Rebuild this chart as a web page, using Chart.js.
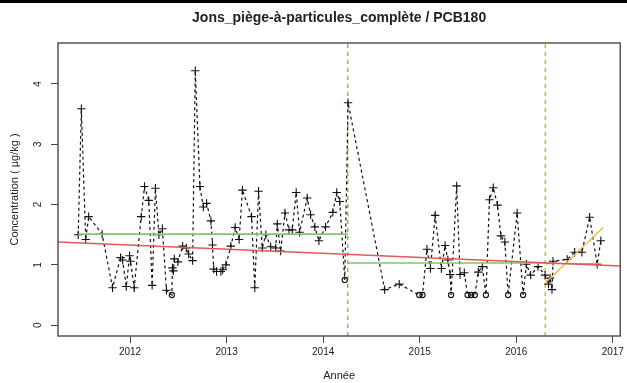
<!DOCTYPE html>
<html lang="fr">
<head>
<meta charset="UTF-8">
<title>Jons - PCB180</title>
<script src="https://cdn.jsdelivr.net/npm/chart.js"></script>
<style>
  html, body { margin: 0; padding: 0; background: #fff; }
</style>
</head>
<body>
<canvas id="pcbChart" width="627" height="383"></canvas>
<script>
// dates d'échantillonnage (année décimale) et concentrations (µg/kg)
const dates = [
  2011.463, 2011.496, 2011.541, 2011.572, 2011.711, 2011.819, 2011.902, 2011.923, 2011.961, 2011.995,
  2012.005, 2012.043, 2012.116, 2012.150, 2012.194, 2012.229, 2012.263, 2012.299, 2012.335, 2012.377,
  2012.433, 2012.439, 2012.449, 2012.459, 2012.495, 2012.545, 2012.583, 2012.607, 2012.648, 2012.676,
  2012.724, 2012.759, 2012.793, 2012.838, 2012.854, 2012.867, 2012.896, 2012.941, 2012.960, 2012.993,
  2013.044, 2013.089, 2013.130, 2013.164, 2013.259, 2013.292, 2013.331, 2013.370, 2013.406, 2013.457,
  2013.509, 2013.525, 2013.560, 2013.605, 2013.646, 2013.680, 2013.721, 2013.756, 2013.835, 2013.870,
  2013.914, 2013.956, 2014.025, 2014.100, 2014.141, 2014.172, 2014.224, 2014.258, 2014.637, 2014.788,
  2014.995, 2015.029, 2015.075, 2015.111, 2015.160, 2015.225, 2015.263, 2015.292, 2015.315, 2015.325,
  2015.383, 2015.418, 2015.462, 2015.496, 2015.532, 2015.571, 2015.607, 2015.648, 2015.686, 2015.723,
  2015.762, 2015.806, 2015.841, 2015.882, 2015.916, 2016.009, 2016.071, 2016.105, 2016.149, 2016.226,
  2016.298, 2016.334, 2016.350, 2016.370, 2016.381, 2016.528, 2016.605, 2016.680, 2016.760, 2016.838,
  2016.876
];
const values = [
  1.50, 3.59, 1.42, 1.80, 1.51, 0.62, 1.12, 1.08, 0.64, 1.15,
  1.06, 0.62, 1.80, 2.30, 2.07, 0.66, 2.27, 1.50, 1.60, 0.58,
  0.50, 0.95, 0.90, 1.10, 1.05, 1.31, 1.28, 1.18, 1.07, 4.22,
  2.30, 1.96, 2.02, 1.73, 1.33, 0.93, 0.89, 0.89, 0.92, 1.00,
  1.31, 1.62, 1.42, 2.24, 1.80, 0.62, 2.22, 1.28, 1.50, 1.30,
  1.28, 1.68, 1.23, 1.86, 1.58, 1.58, 2.20, 1.54, 2.11, 1.83,
  1.63, 1.40, 1.63, 1.87, 2.20, 2.05, 0.75, 3.69, 0.59, 0.68,
  0.50, 0.50, 1.26, 0.94, 1.82, 0.94, 1.32, 1.08, 0.84, 0.50,
  2.31, 0.84, 0.87, 0.50, 0.50, 0.50, 0.88, 0.97, 0.50, 2.08,
  2.28, 1.99, 1.48, 1.38, 0.50, 1.86, 0.50, 1.01, 0.83, 0.97,
  0.83, 0.68, 0.78, 0.59, 1.06, 1.09, 1.21, 1.21, 1.79, 1.01,
  1.40
];
// 1 = valeur sous la limite de quantification (cercle)
const belowLimit = [
  0, 0, 0, 0, 0, 0, 0, 0, 0, 0,
  0, 0, 0, 0, 0, 0, 0, 0, 0, 0,
  1, 0, 0, 0, 0, 0, 0, 0, 0, 0,
  0, 0, 0, 0, 0, 0, 0, 0, 0, 0,
  0, 0, 0, 0, 0, 0, 0, 0, 0, 0,
  0, 0, 0, 0, 0, 0, 0, 0, 0, 0,
  0, 0, 0, 0, 0, 0, 1, 0, 0, 0,
  1, 1, 0, 0, 0, 0, 0, 0, 0, 1,
  0, 0, 0, 1, 1, 1, 0, 0, 1, 0,
  0, 0, 0, 0, 1, 0, 1, 0, 0, 0,
  0, 0, 0, 0, 0, 0, 0, 0, 0, 0,
  0
];

const xTicks = [2012, 2013, 2014, 2015, 2016, 2017];
const yTicks = [0, 1, 2, 3, 4];
const xMin = 2011.254, xMax = 2017.077;
const yMin = -0.18, yMax = 4.68;

// ruptures et moyennes par période
const breaks = [2014.255, 2016.30];
const periodStart = [2011.463, 2014.258, 2016.30];
const periodEnd = [2014.258, 2016.30, 2016.876];
const periodMean = [1.51, 1.03, 1.02];

// tendance globale et tendance de la dernière période
const trendX = [xMin, xMax];
const trendY = [1.38, 0.98];
const lastTrendX = [2016.30, 2016.90];
const lastTrendY = [0.70, 1.62];

const FONT = "'Liberation Sans', Arial, sans-serif";

const points = dates.map((d, i) => ({ x: d, y: values[i] }));
const seg = (xs, ys) => xs.map((x, i) => ({ x: x, y: ys[i] }));

function plainLine(data, color, width, dash) {
    return {
        data: data,
        borderColor: color,
        borderWidth: width,
        borderDash: dash || [],
        pointRadius: 0,
        fill: false,
        tension: 0
    };
}

const frame = {
    id: 'frame',
    beforeDraw(chart) {
        const ctx = chart.ctx;
        ctx.save();
        ctx.fillStyle = '#fff';
        ctx.fillRect(0, 0, chart.width, chart.height);
        ctx.fillStyle = '#000';
        ctx.fillRect(0, 0, chart.width, 3);
        ctx.restore();
    },
    afterDraw(chart) {
        const { ctx, chartArea: a } = chart;
        ctx.save();
        ctx.strokeStyle = '#555';
        ctx.lineWidth = 1.5;
        ctx.strokeRect(a.left, a.top, a.right - a.left, a.bottom - a.top);
        ctx.fillStyle = '#222';
        ctx.font = 'bold 14px ' + FONT;
        ctx.textAlign = 'center';
        ctx.textBaseline = 'middle';
        ctx.fillText('Jons_piège-à-particules_complète / PCB180', (a.left + a.right) / 2, 18);
        ctx.restore();
    }
};

const ctx = document.getElementById('pcbChart').getContext('2d');

new Chart(ctx, {
    type: 'line',
    data: {
        datasets: [
            plainLine(seg(trendX, trendY), '#e05a5a', 1.6),
            plainLine(seg([periodStart[0], periodEnd[0]], [periodMean[0], periodMean[0]]), '#86c46a', 1.6),
            plainLine(seg([periodStart[1], periodEnd[1]], [periodMean[1], periodMean[1]]), '#86c46a', 1.6),
            plainLine(seg([periodStart[2], periodEnd[2]], [periodMean[2], periodMean[2]]), '#d8a050', 1.4),
            plainLine(seg(lastTrendX, lastTrendY), '#f0b848', 1.4),
            {
                data: points,
                borderColor: '#111',
                borderWidth: 1.2,
                borderDash: [3, 3],
                tension: 0,
                fill: false,
                pointStyle: belowLimit.map(b => b ? 'circle' : 'cross'),
                pointRadius: belowLimit.map(b => b ? 2.6 : 4.2),
                pointBorderColor: '#111',
                pointBackgroundColor: 'rgba(0,0,0,0)',
                pointBorderWidth: 1.1
            },
            plainLine(seg([breaks[0], breaks[0]], [yMin, yMax]), '#84c050', 1.5, [4, 4]),
            plainLine(seg([breaks[1], breaks[1]], [yMin, yMax]), '#f5b020', 1.5, [4, 4])
        ]
    },
    options: {
        responsive: false,
        animation: false,
        devicePixelRatio: 1,
        layout: { padding: { top: 43, right: 5, left: 0, bottom: 0 } },
        plugins: {
            legend: { display: false },
            tooltip: { enabled: false }
        },
        scales: {
            x: {
                type: 'linear',
                min: xMin,
                max: xMax,
                afterBuildTicks: axis => { axis.ticks = xTicks.map(v => ({ value: v })); },
                afterFit: scale => { scale.height = 47; },
                ticks: {
                    callback: v => String(v),
                    font: { family: FONT, size: 10 },
                    color: '#222',
                    padding: 3,
                    maxRotation: 0,
                    autoSkip: false
                },
                grid: { drawOnChartArea: false, tickLength: 7, color: '#444', lineWidth: 1 },
                border: { display: false },
                title: {
                    display: true,
                    text: 'Année',
                    font: { family: FONT, size: 11 },
                    color: '#222',
                    padding: { top: 0, bottom: 0 }
                }
            },
            y: {
                type: 'linear',
                min: yMin,
                max: yMax,
                afterBuildTicks: axis => { axis.ticks = yTicks.map(v => ({ value: v })); },
                afterFit: scale => { scale.width = 58; },
                ticks: {
                    callback: v => String(v),
                    font: { family: FONT, size: 10 },
                    color: '#222',
                    padding: 10,
                    minRotation: 90,
                    maxRotation: 90,
                    crossAlign: 'center'
                },
                grid: { drawOnChartArea: false, tickLength: 7, color: '#444', lineWidth: 1 },
                border: { display: false },
                title: {
                    display: true,
                    text: 'Concentration ( µg/kg )',
                    font: { family: FONT, size: 11 },
                    color: '#222',
                    padding: { top: 8, bottom: 0 }
                }
            }
        }
    },
    plugins: [frame]
});
</script>
</body>
</html>
